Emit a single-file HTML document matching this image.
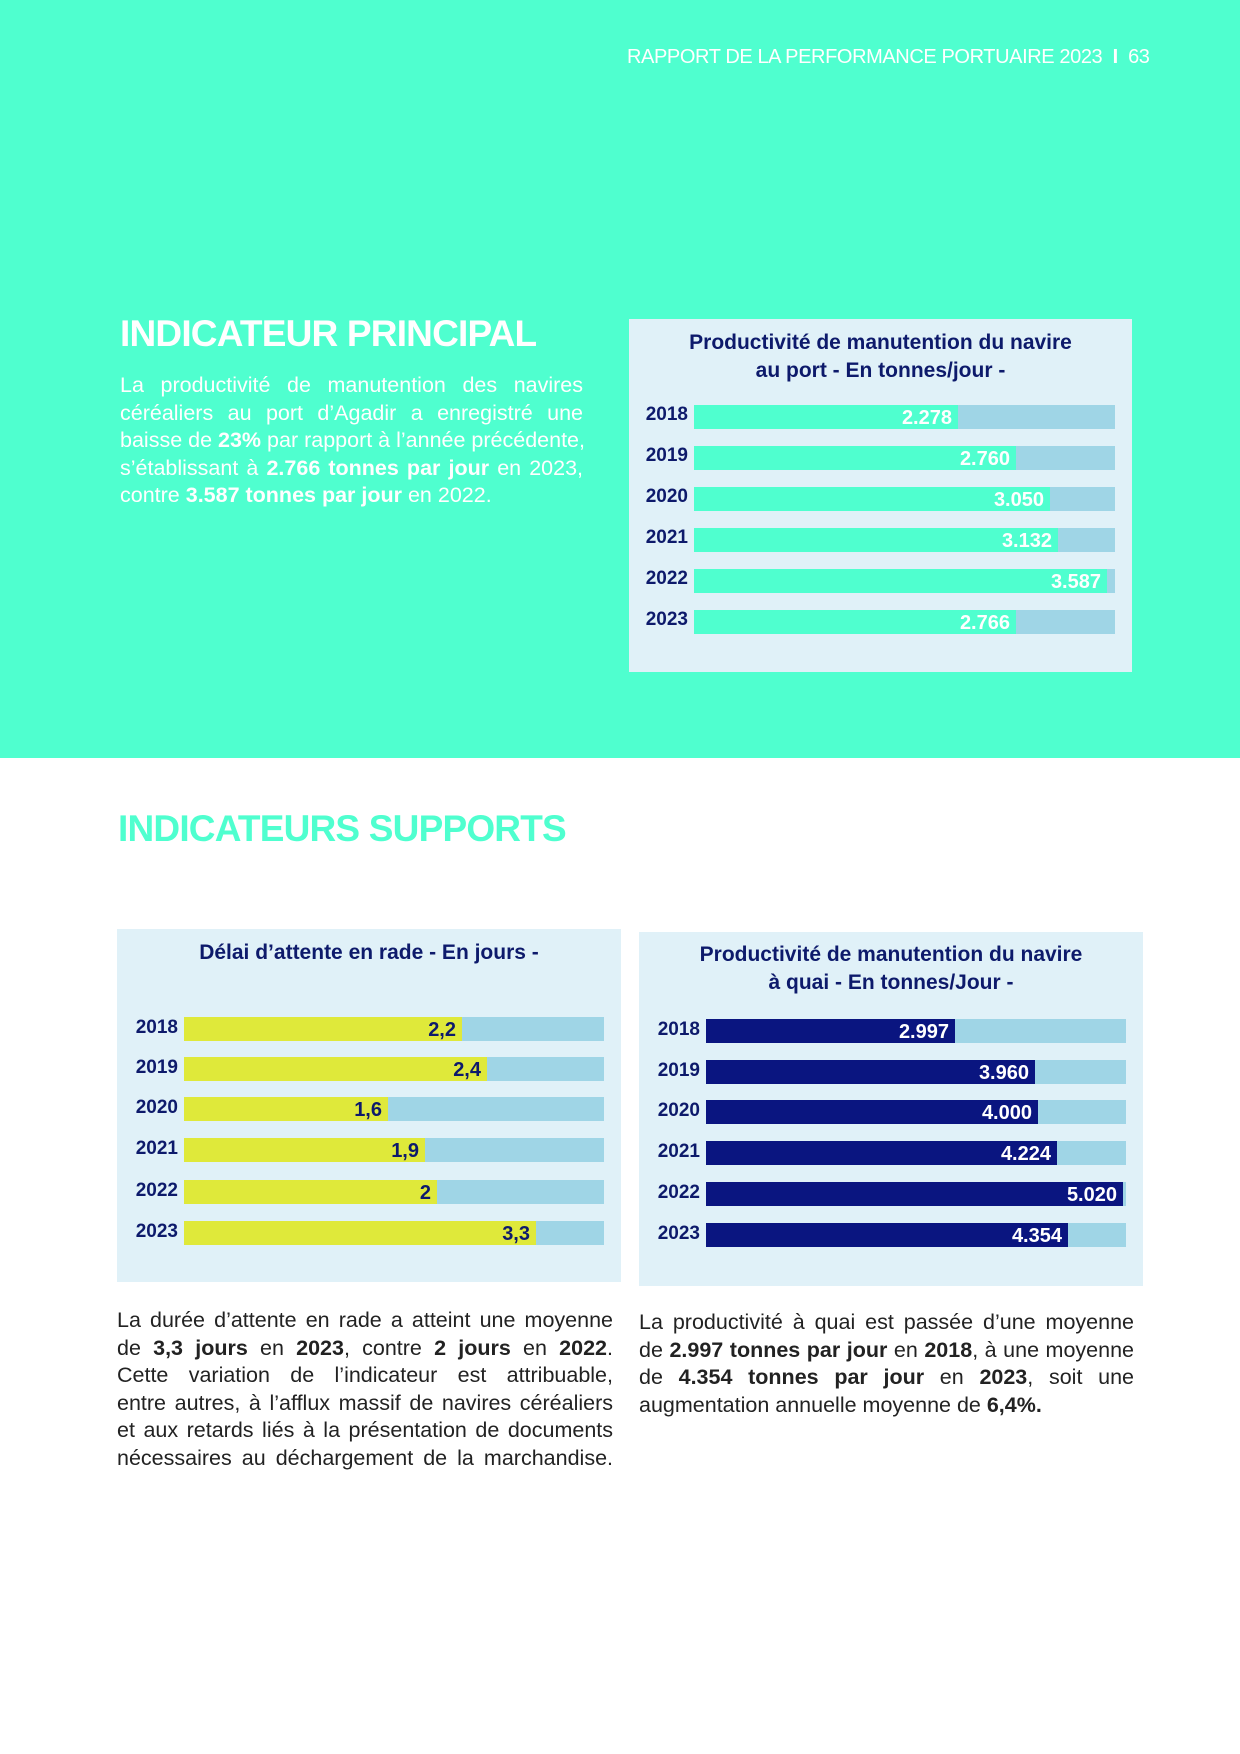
<!DOCTYPE html>
<html><head><meta charset="utf-8"><style>
*{margin:0;padding:0;box-sizing:border-box}
body{width:1240px;height:1754px;position:relative;background:#fff;font-family:"Liberation Sans",sans-serif;overflow:hidden}
.top{position:absolute;left:0;top:0;width:1240px;height:758px;background:#4fffcf}
.abs{position:absolute}
.hdr{left:627px;top:46px;color:#fff;font-size:20px;white-space:nowrap;letter-spacing:-0.4px}
.h1{font-weight:bold;font-size:37px;letter-spacing:-0.8px;white-space:nowrap}
.para{font-size:21.5px;line-height:27.5px}
.para div{text-align:justify;text-align-last:justify;white-space:nowrap}
.para div.last{text-align-last:left}
.panel{position:absolute;background:#e0f1f8}
.ttl{position:absolute;left:0;width:100%;text-align:center;color:#0d1a6b;font-weight:bold;font-size:21px;font-family:"Liberation Sans Narrow","Liberation Sans",sans-serif;line-height:28px}
.yr{position:absolute;color:#0d1a6b;font-weight:bold;font-size:19px;width:60px;text-align:right;font-family:"Liberation Sans Narrow","Liberation Sans",sans-serif}
.bar{position:absolute;background:#9fd5e6;height:24px}
.fill{position:absolute;left:0;top:0;height:24px}
.val{position:absolute;right:6px;top:1px;font-weight:bold;font-size:20px;line-height:24px;font-family:"Liberation Sans Narrow","Liberation Sans",sans-serif}
</style></head><body>
<div class="top"></div>
<div class="abs hdr">RAPPORT DE LA PERFORMANCE PORTUAIRE 2023 <b>&nbsp;I&nbsp;</b> 63</div>
<div class="abs h1" style="left:120px;top:313px;color:#fff">INDICATEUR PRINCIPAL</div>
<div class="abs para" style="left:120px;top:372px;width:463px;color:#fff">
<div>La productivité de manutention des navires</div>
<div>céréaliers au port d’Agadir a enregistré une</div>
<div>baisse de <b>23%</b> par rapport à l’année précédente,</div>
<div>s’établissant à <b>2.766 tonnes par jour</b> en 2023,</div>
<div class="last">contre <b>3.587 tonnes par jour</b> en 2022.</div>
</div>

<div class="panel" style="left:629px;top:319px;width:503px;height:353px">
<div class="ttl" style="top:10px">Productivité de manutention du navire<br>au port - En tonnes/jour -</div>
</div>

<div class="abs h1" style="left:118px;top:808px;color:#4fffcf">INDICATEURS SUPPORTS</div>

<div class="panel" style="left:117px;top:929px;width:504px;height:353px">
<div class="ttl" style="top:10px">Délai d’attente en rade - En jours -</div>
</div>
<div class="panel" style="left:639px;top:932px;width:504px;height:354px">
<div class="ttl" style="top:9px">Productivité de manutention du navire<br>à quai - En tonnes/Jour -</div>
</div>

<div class="abs para" style="left:117px;top:1307px;width:496px;color:#222">
<div>La durée d’attente en rade a atteint une moyenne</div>
<div>de <b>3,3 jours</b> en <b>2023</b>, contre <b>2 jours</b> en <b>2022</b>.</div>
<div>Cette variation de l’indicateur est attribuable,</div>
<div>entre autres, à l’afflux massif de navires céréaliers</div>
<div>et aux retards liés à la présentation de documents</div>
<div>nécessaires au déchargement de la marchandise.</div>
</div>
<div class="abs para" style="left:639px;top:1309px;width:495px;color:#222">
<div>La productivité à quai est passée d’une moyenne</div>
<div>de <b>2.997 tonnes par jour</b> en <b>2018</b>, à une moyenne</div>
<div>de <b>4.354 tonnes par jour</b> en <b>2023</b>, soit une</div>
<div class="last">augmentation annuelle moyenne de <b>6,4%.</b></div>
</div>

<!-- chart 1 -->
<div class="yr" style="left:628px;top:404px">2018</div><div class="bar" style="left:694px;top:405px;width:421px"><div class="fill" style="width:264px;background:#4fffcf"><span class="val" style="color:#fff">2.278</span></div></div>
<div class="yr" style="left:628px;top:445px">2019</div><div class="bar" style="left:694px;top:446px;width:421px"><div class="fill" style="width:322px;background:#4fffcf"><span class="val" style="color:#fff">2.760</span></div></div>
<div class="yr" style="left:628px;top:486px">2020</div><div class="bar" style="left:694px;top:487px;width:421px"><div class="fill" style="width:356px;background:#4fffcf"><span class="val" style="color:#fff">3.050</span></div></div>
<div class="yr" style="left:628px;top:527px">2021</div><div class="bar" style="left:694px;top:528px;width:421px"><div class="fill" style="width:364px;background:#4fffcf"><span class="val" style="color:#fff">3.132</span></div></div>
<div class="yr" style="left:628px;top:568px">2022</div><div class="bar" style="left:694px;top:569px;width:421px"><div class="fill" style="width:413px;background:#4fffcf"><span class="val" style="color:#fff">3.587</span></div></div>
<div class="yr" style="left:628px;top:609px">2023</div><div class="bar" style="left:694px;top:610px;width:421px"><div class="fill" style="width:322px;background:#4fffcf"><span class="val" style="color:#fff">2.766</span></div></div>

<!-- chart 2 -->
<div class="yr" style="left:118px;top:1017px">2018</div><div class="bar" style="left:184px;top:1017px;width:420px"><div class="fill" style="width:278px;background:#dfe93a"><span class="val" style="color:#0d1a6b">2,2</span></div></div>
<div class="yr" style="left:118px;top:1057px">2019</div><div class="bar" style="left:184px;top:1057px;width:420px"><div class="fill" style="width:303px;background:#dfe93a"><span class="val" style="color:#0d1a6b">2,4</span></div></div>
<div class="yr" style="left:118px;top:1097px">2020</div><div class="bar" style="left:184px;top:1097px;width:420px"><div class="fill" style="width:204px;background:#dfe93a"><span class="val" style="color:#0d1a6b">1,6</span></div></div>
<div class="yr" style="left:118px;top:1138px">2021</div><div class="bar" style="left:184px;top:1138px;width:420px"><div class="fill" style="width:241px;background:#dfe93a"><span class="val" style="color:#0d1a6b">1,9</span></div></div>
<div class="yr" style="left:118px;top:1180px">2022</div><div class="bar" style="left:184px;top:1180px;width:420px"><div class="fill" style="width:253px;background:#dfe93a"><span class="val" style="color:#0d1a6b">2</span></div></div>
<div class="yr" style="left:118px;top:1221px">2023</div><div class="bar" style="left:184px;top:1221px;width:420px"><div class="fill" style="width:352px;background:#dfe93a"><span class="val" style="color:#0d1a6b">3,3</span></div></div>

<!-- chart 3 -->
<div class="yr" style="left:640px;top:1019px">2018</div><div class="bar" style="left:706px;top:1019px;width:420px"><div class="fill" style="width:249px;background:#0a1580"><span class="val" style="color:#fff">2.997</span></div></div>
<div class="yr" style="left:640px;top:1060px">2019</div><div class="bar" style="left:706px;top:1060px;width:420px"><div class="fill" style="width:329px;background:#0a1580"><span class="val" style="color:#fff">3.960</span></div></div>
<div class="yr" style="left:640px;top:1100px">2020</div><div class="bar" style="left:706px;top:1100px;width:420px"><div class="fill" style="width:332px;background:#0a1580"><span class="val" style="color:#fff">4.000</span></div></div>
<div class="yr" style="left:640px;top:1141px">2021</div><div class="bar" style="left:706px;top:1141px;width:420px"><div class="fill" style="width:351px;background:#0a1580"><span class="val" style="color:#fff">4.224</span></div></div>
<div class="yr" style="left:640px;top:1182px">2022</div><div class="bar" style="left:706px;top:1182px;width:420px"><div class="fill" style="width:417px;background:#0a1580"><span class="val" style="color:#fff">5.020</span></div></div>
<div class="yr" style="left:640px;top:1223px">2023</div><div class="bar" style="left:706px;top:1223px;width:420px"><div class="fill" style="width:362px;background:#0a1580"><span class="val" style="color:#fff">4.354</span></div></div>
</body></html>
